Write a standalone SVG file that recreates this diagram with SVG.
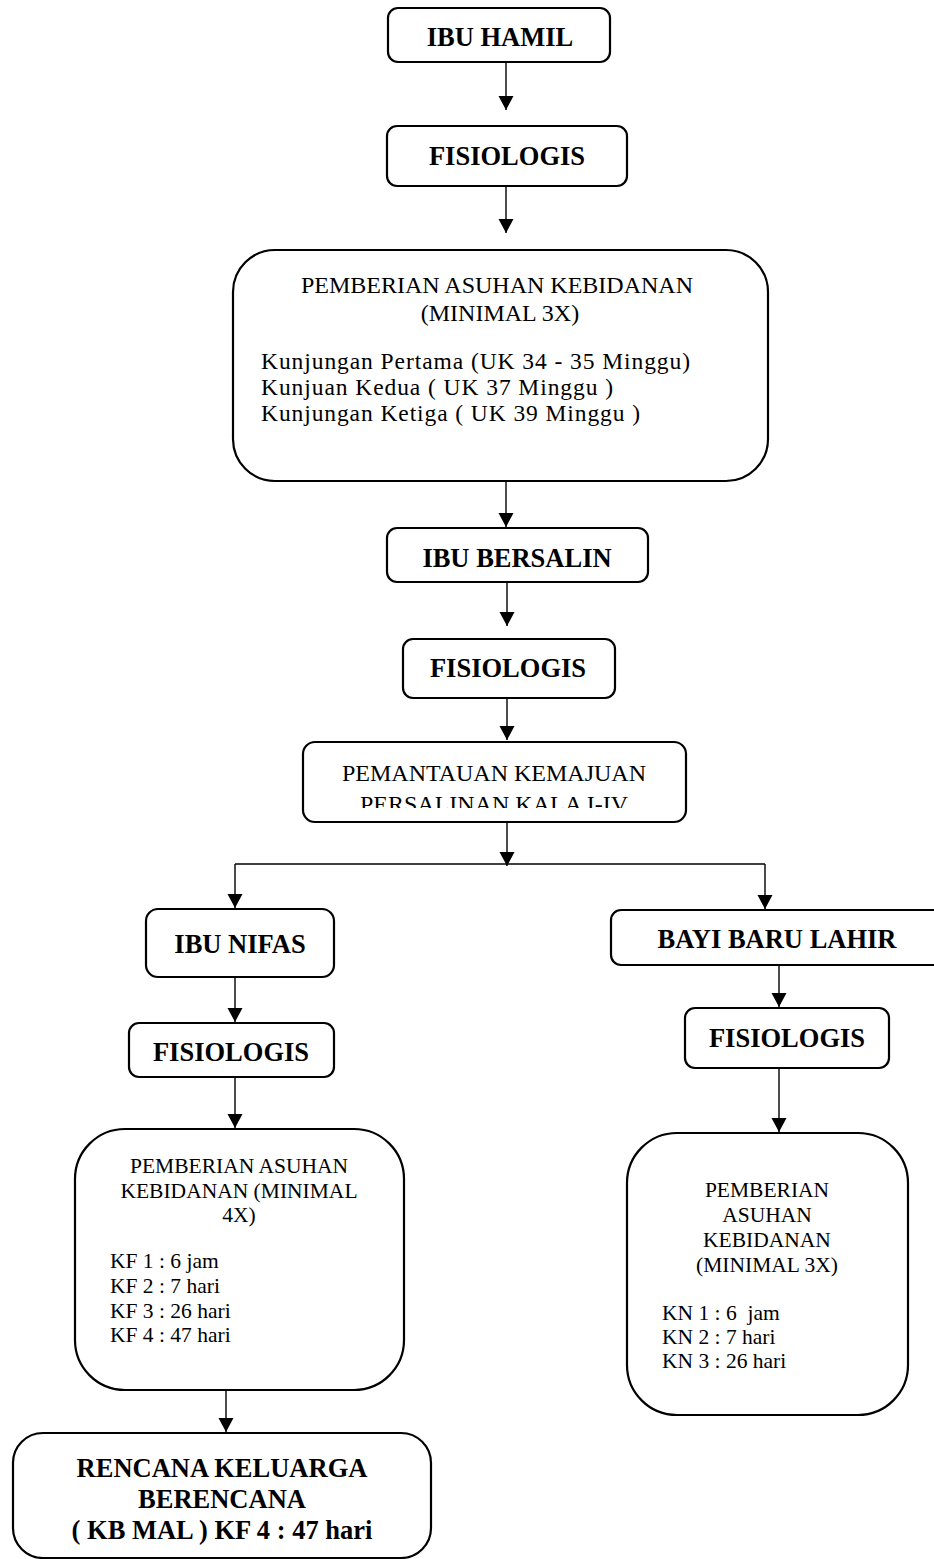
<svg xmlns="http://www.w3.org/2000/svg" width="934" height="1559" viewBox="0 0 934 1559">
<style>
.box{fill:#fff;stroke:#000;stroke-width:2.2}
.b{font-family:"Liberation Serif","Times New Roman",serif;font-weight:bold;font-size:26.5px;fill:#000;text-anchor:middle}
.r{font-family:"Liberation Serif","Times New Roman",serif;font-size:21.5px;fill:#000;white-space:pre}
.c{text-anchor:middle}
.k{font-size:23.5px}
.ln{stroke:#000;stroke-width:1.4;fill:none}
</style>
<defs>
<marker id="ah" markerUnits="userSpaceOnUse" markerWidth="16" markerHeight="16" refX="14" refY="7.5" orient="auto">
<path d="M0,0 L14,7.5 L0,15 Z" fill="#000"/>
</marker>
<clipPath id="pclip"><rect x="300" y="745" width="390" height="63"/></clipPath>
</defs>
<rect width="934" height="1559" fill="#fff"/>

<g id="connectors">
<line class="ln" x1="506" y1="62" x2="506" y2="110" marker-end="url(#ah)"/>
<line class="ln" x1="506" y1="186" x2="506" y2="233" marker-end="url(#ah)"/>
<line class="ln" x1="506" y1="481" x2="506" y2="527" marker-end="url(#ah)"/>
<line class="ln" x1="507" y1="582" x2="507" y2="626" marker-end="url(#ah)"/>
<line class="ln" x1="507" y1="698" x2="507" y2="740" marker-end="url(#ah)"/>
<line class="ln" x1="507" y1="822" x2="507" y2="866" marker-end="url(#ah)"/>
<line class="ln" x1="235" y1="864" x2="765" y2="864"/>
<line class="ln" x1="235" y1="864" x2="235" y2="908" marker-end="url(#ah)"/>
<line class="ln" x1="765" y1="864" x2="765" y2="909" marker-end="url(#ah)"/>
<line class="ln" x1="235" y1="977" x2="235" y2="1022" marker-end="url(#ah)"/>
<line class="ln" x1="235" y1="1077" x2="235" y2="1128" marker-end="url(#ah)"/>
<line class="ln" x1="226" y1="1390" x2="226" y2="1432" marker-end="url(#ah)"/>
<line class="ln" x1="779" y1="965" x2="779" y2="1007" marker-end="url(#ah)"/>
<line class="ln" x1="779" y1="1068" x2="779" y2="1132" marker-end="url(#ah)"/>
</g>

<g id="ibu-hamil">
<rect class="box" x="388" y="8" width="222" height="54" rx="10"/>
<text class="b" x="500" y="46">IBU HAMIL</text>
</g>
<g id="fisiologis-1">
<rect class="box" x="387" y="126" width="240" height="60" rx="10"/>
<text class="b" x="507" y="165">FISIOLOGIS</text>
</g>
<g id="asuhan-hamil">
<rect class="box" x="233" y="250" width="535" height="231" rx="42"/>
<text class="r c" x="497" y="293" style="font-size:24px">PEMBERIAN ASUHAN KEBIDANAN</text>
<text class="r c" x="500" y="321" style="font-size:24px">(MINIMAL 3X)</text>
<text class="r k" x="261" y="369" textLength="429" lengthAdjust="spacing">Kunjungan Pertama (UK 34 - 35 Minggu)</text>
<text class="r k" x="261" y="395" textLength="352" lengthAdjust="spacing">Kunjuan Kedua ( UK 37 Minggu )</text>
<text class="r k" x="261" y="421" textLength="379" lengthAdjust="spacing">Kunjungan Ketiga ( UK 39 Minggu )</text>
</g>
<g id="ibu-bersalin">
<rect class="box" x="387" y="528" width="261" height="54" rx="10"/>
<text class="b" x="517" y="567">IBU BERSALIN</text>
</g>
<g id="fisiologis-2">
<rect class="box" x="403" y="639" width="212" height="59" rx="10"/>
<text class="b" x="508" y="677">FISIOLOGIS</text>
</g>
<g id="pemantauan">
<rect class="box" x="303" y="742" width="383" height="80" rx="12"/>
<g clip-path="url(#pclip)">
<text class="r c" x="494" y="781" style="font-size:24px">PEMANTAUAN KEMAJUAN</text>
<text class="r c" x="494" y="812" style="font-size:24px">PERSALINAN KALA I-IV</text>
</g>
</g>
<g id="ibu-nifas">
<rect class="box" x="146" y="909" width="188" height="68" rx="12"/>
<text class="b" x="240" y="953">IBU NIFAS</text>
</g>
<g id="fisiologis-nifas">
<rect class="box" x="129" y="1023" width="205" height="54" rx="10"/>
<text class="b" x="231" y="1061">FISIOLOGIS</text>
</g>
<g id="asuhan-nifas">
<rect class="box" x="75" y="1129" width="329" height="261" rx="50"/>
<text class="r c" x="239" y="1173">PEMBERIAN ASUHAN</text>
<text class="r c" x="239" y="1198">KEBIDANAN (MINIMAL</text>
<text class="r c" x="239" y="1222">4X)</text>
<text class="r" x="110" y="1268">KF 1 : 6 jam</text>
<text class="r" x="110" y="1293">KF 2 : 7 hari</text>
<text class="r" x="110" y="1318">KF 3 : 26 hari</text>
<text class="r" x="110" y="1342">KF 4 : 47 hari</text>
</g>
<g id="rencana-kb">
<rect class="box" x="13" y="1433" width="418" height="125" rx="30"/>
<text class="b" x="222" y="1477">RENCANA KELUARGA</text>
<text class="b" x="222" y="1508">BERENCANA</text>
<text class="b" x="222" y="1539">( KB MAL ) KF 4 : 47 hari</text>
</g>
<g id="bayi-baru-lahir">
<rect class="box" x="611" y="910" width="340" height="55" rx="10"/>
<text class="b" x="777" y="948">BAYI BARU LAHIR</text>
</g>
<g id="fisiologis-bayi">
<rect class="box" x="685" y="1008" width="204" height="60" rx="10"/>
<text class="b" x="787" y="1047">FISIOLOGIS</text>
</g>
<g id="asuhan-bayi">
<rect class="box" x="627" y="1133" width="281" height="282" rx="50"/>
<text class="r c" x="767" y="1197">PEMBERIAN</text>
<text class="r c" x="767" y="1222">ASUHAN</text>
<text class="r c" x="767" y="1247">KEBIDANAN</text>
<text class="r c" x="767" y="1272">(MINIMAL 3X)</text>
<text class="r" x="662" y="1320">KN 1 : 6  jam</text>
<text class="r" x="662" y="1344">KN 2 : 7 hari</text>
<text class="r" x="662" y="1368">KN 3 : 26 hari</text>
</g>
</svg>
